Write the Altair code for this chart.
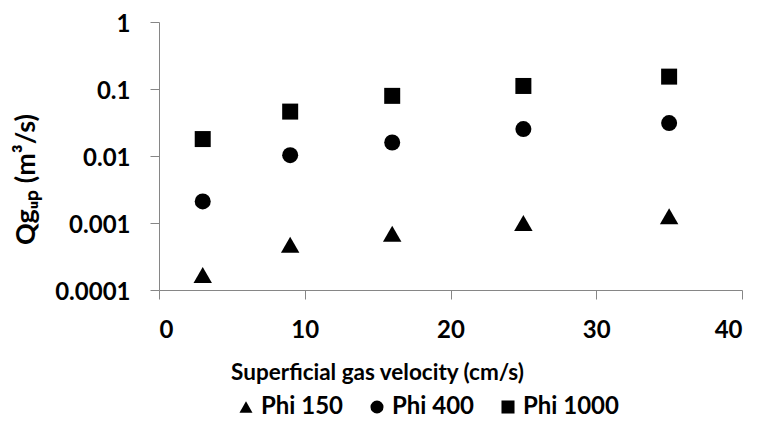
import altair as alt
import pandas as pd

velocity = [3, 9, 16, 25, 35]
phi150 = [0.000168, 0.000475, 0.00069, 0.0010, 0.00126]
phi400 = [0.0021, 0.0103, 0.0159, 0.0252, 0.031]
phi1000 = [0.0179, 0.046, 0.079, 0.111, 0.153]
series_names = ["Phi 150", "Phi 400", "Phi 1000"]
shapes = ["triangle-up", "circle", "square"]
marker_sizes = [340, 256, 256]
x_ticks = [0, 10, 20, 30, 40]
y_ticks = [0.0001, 0.001, 0.01, 0.1, 1]

rows = []
for name, vals, ms in zip(series_names, [phi150, phi400, phi1000], marker_sizes):
    for v, q in zip(velocity, vals):
        rows.append({"v": v, "q": q, "series": name, "msize": ms})
df = pd.DataFrame(rows)

FONT = "Lato"
GRAY = "#868686"

chart = alt.Chart(df).mark_point(filled=True, opacity=1, color="black").encode(
    x=alt.X("v:Q", scale=alt.Scale(domain=[0, 40], nice=False),
            axis=alt.Axis(values=x_ticks, title="Superficial gas velocity (cm/s)",
                          grid=False, tickSize=9, labelPadding=19, titlePadding=19,
                          titleX=218, titleAlign="center",
                          labelFontSize=24, labelFontWeight="bold", labelFont=FONT,
                          titleFontSize=22.5, titleFontWeight="bold", titleFont=FONT,
                          domainColor=GRAY, tickColor=GRAY, labelColor="black", titleColor="black")),
    y=alt.Y("q:Q", scale=alt.Scale(type="log", domain=[0.0001, 1], nice=False),
            axis=alt.Axis(values=y_ticks, format="~g", title="Qgᵤₚ (m³/s)",
                          grid=False, tickSize=9, labelPadding=20, titlePadding=14,
                          labelOffset=2, titleY=157,
                          labelFontSize=24, labelFontWeight="bold", labelFont=FONT,
                          titleFontSize=27, titleFontWeight="bold", titleFont=FONT,
                          domainColor=GRAY, tickColor=GRAY, labelColor="black", titleColor="black")),
    shape=alt.Shape("series:N", scale=alt.Scale(domain=series_names, range=shapes),
                    legend=alt.Legend(title=None, orient="none", direction="horizontal",
                                      legendX=75, legendY=373,
                                      labelFontSize=24, labelFontWeight="bold", labelFont=FONT,
                                      labelColor="black", symbolSize=170, symbolFillColor="black",
                                      symbolStrokeColor="black", symbolType="circle",
                                      columnPadding=21, labelOffset=3)),
    size=alt.Size("msize:Q", scale=None),
).properties(
    width=583, height=268, padding={"left": 4, "top": 4, "right": 5, "bottom": 5}
).configure_view(stroke=None)

chart.save("out.html", embed_options={"renderer": "svg", "actions": False})
